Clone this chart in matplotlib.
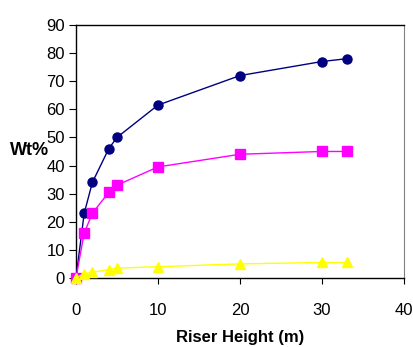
import matplotlib.pyplot as plt

# Riser height (m) and weight percent for the three series
height = [0, 1, 2, 4, 5, 10, 20, 30, 33]
wt_blue = [0, 23, 34, 46, 50, 61.5, 72, 77, 78]
wt_pink = [0, 16, 23, 30.5, 33, 39.5, 44, 45, 45]
wt_yellow = [0, 1.5, 2, 3, 3.5, 4, 5, 5.5, 5.5]

plt.rcParams['font.family'] = ['Liberation Sans', 'DejaVu Sans']

fig = plt.figure(figsize=(4.13, 3.47), dpi=100)
ax = fig.add_axes([0.184, 0.199, 0.794, 0.729])

ax.plot(height, wt_blue, color='#000080', marker='o', markersize=6.5, lw=1.0, clip_on=False, zorder=3)
ax.plot(height, wt_pink, color='#FF00FF', marker='s', markersize=7, lw=1.0, clip_on=False, zorder=3)
ax.plot(height, wt_yellow, color='#FFFF00', marker='^', markersize=7.5, lw=1.0, clip_on=False, zorder=3)

ax.set_xlim(0, 40)
ax.set_ylim(0, 90)
ax.set_xticks([0, 10, 20, 30, 40])
ax.set_yticks(range(0, 91, 10))
ax.tick_params(axis='x', direction='out', length=4, pad=14, labelsize=12)
ax.tick_params(axis='y', direction='out', length=5, pad=3, labelsize=12)

ax.spines['right'].set_color('#808080')
for s in ['left', 'bottom', 'top']:
    ax.spines[s].set_color('black')
    ax.spines[s].set_linewidth(1.0)

ax.set_xlabel('Riser Height (m)', fontsize=12, fontweight='bold',
              family=['Liberation Sans Narrow', 'Liberation Sans'], labelpad=9)
ax.text(-0.201, 0.502, 'Wt%', transform=ax.transAxes, fontsize=13, fontweight='bold',
        family=['Liberation Sans Narrow', 'Liberation Sans'], ha='left', va='center')

fig.savefig('out.png', dpi=100)
